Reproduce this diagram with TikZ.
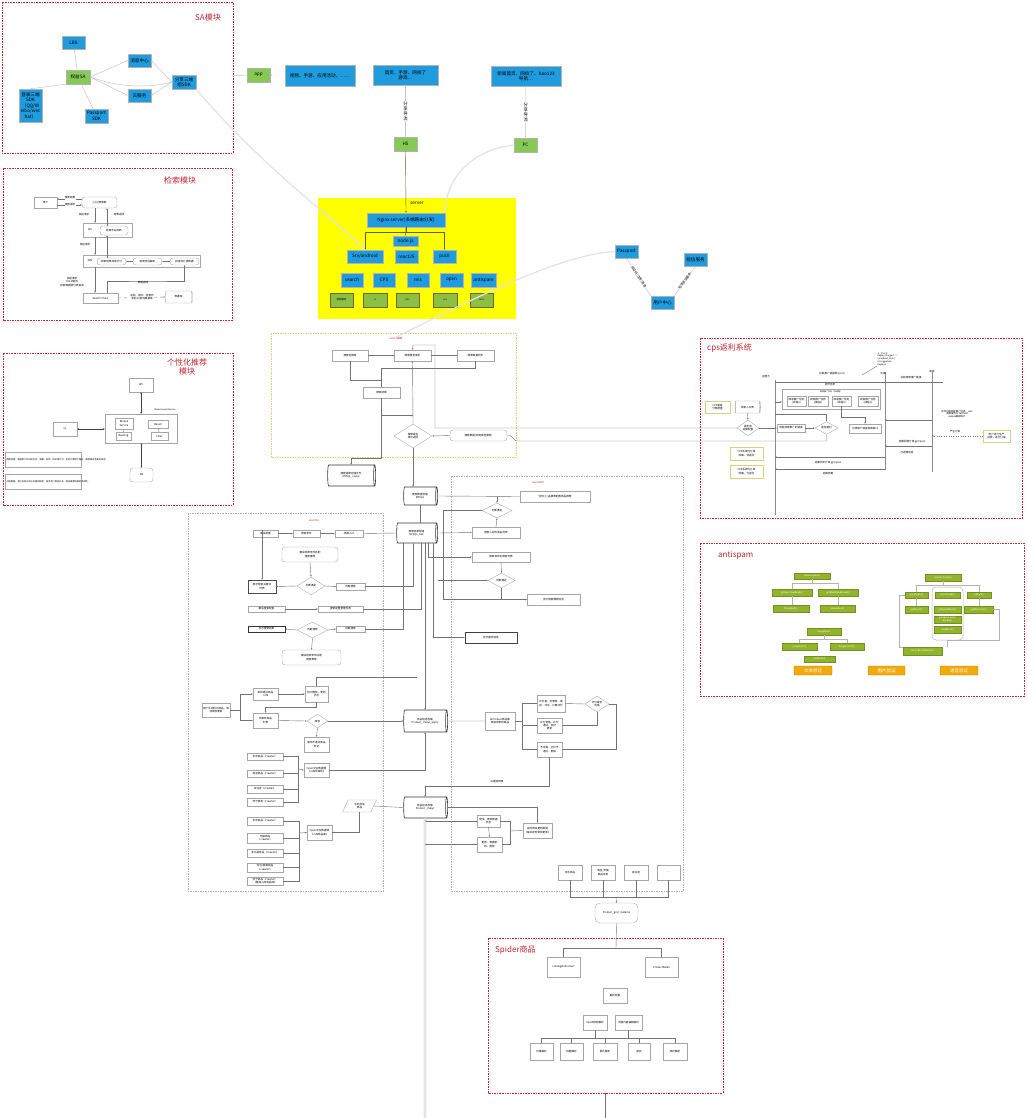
\documentclass[tikz,border=0pt]{standalone}
\usepackage{fontspec}
\setmainfont{Noto Sans CJK SC}
\usetikzlibrary{shapes.geometric,shapes.misc,arrows.meta,calc}
\definecolor{skyb}{HTML}{1F9BDE}
\definecolor{lgrn}{HTML}{86C954}
\definecolor{sgrn}{HTML}{8DBF45}
\definecolor{olv}{HTML}{92B42A}
\definecolor{orng}{HTML}{F1A90B}
\definecolor{ylw}{HTML}{FFFF00}
\definecolor{modred}{HTML}{C0242F}
\definecolor{ybord}{HTML}{D8D27A}
\newcommand\fsz[2]{\fontsize{#1}{#2}\selectfont}
\newcommand\bx[7]{\node[#6,minimum width=#4pt-#2pt,minimum height=#5pt-#3pt] (#1) at ({(#2+#4)/2},{(#3+#5)/2}) {#7};}
\newcommand\cy[7]{\node[cyl,#6,minimum height=#4pt-#2pt,minimum width=#5pt-#3pt] (#1) at ({(#2+#4)/2},{(#3+#5)/2}) {#7};}
\tikzset{
  bl/.style={draw=gray!60,fill=skyb,inner sep=0.3pt,align=center,font=\fsz{4.6}{5.4}},
  gr/.style={draw=gray!60,fill=lgrn,inner sep=0.3pt,align=center,font=\fsz{4.6}{5.4}},
  sg/.style={draw=olive!70!black,fill=sgrn,inner sep=0.3pt,align=center,font=\fsz{2.5}{3}},
  wb/.style={draw=gray!70,fill=white,line width=0.35pt,inner sep=0.2pt,align=center,font=\fsz{2.6}{3.1}},
  wr/.style={wb,rounded corners=3pt},
  yb/.style={wb,draw=ybord,line width=0.7pt},
  dia/.style={diamond,draw=gray!70,fill=white,line width=0.35pt,inner sep=0pt,align=center,font=\fsz{2.6}{3.1}},
  cyl/.style={cylinder,shape aspect=0.35,draw=black!80,fill=white,line width=0.6pt,inner sep=0pt,align=center,font=\fsz{2.6}{3.1}},
  as/.style={fill=olv,draw=olv!80!black,line width=0.2pt,inner sep=0.2pt,text=white,align=center,font=\fsz{2.3}{2.8}},
  og/.style={fill=orng,draw=orng!80!black,rounded corners=1pt,inner sep=0.2pt,text=white,align=center,font=\fsz{4.5}{5}},
  modbox/.style={draw=modred,line width=0.8pt,dash pattern=on 1.6pt off 1pt},
  subbox/.style={draw=gray!60,line width=0.45pt,dash pattern=on 1.5pt off 1pt},
  ttl/.style={text=modred,font=\fsz{8}{9.5},align=center,inner sep=0pt},
  lbl/.style={font=\fsz{2.6}{3.1},align=center,inner sep=0.3pt},
  ed/.style={draw=black!55,line width=0.4pt,-{Stealth[length=1.8pt,width=1.4pt]}},
  ln/.style={draw=black!55,line width=0.4pt},
  gl/.style={draw=gray!45,line width=0.5pt},
  ge/.style={gl,-{Stealth[length=2pt,width=1.6pt]}},
  dbl/.style={draw=black!75,line width=0.4pt,{Stealth[length=1.8pt,width=1.4pt]}-{Stealth[length=1.8pt,width=1.4pt]}},
  curv/.style={draw=gray!22,line width=1.2pt},
}
\begin{document}
\begin{tikzpicture}[x=1pt,y=-1pt]
\useasboundingbox (0,0) rectangle (1027,1118);
\fill[white] (0,0) rectangle (1027,1118);

% ================= SA module
\draw[modbox] (2,2) rectangle (233,153);
\node[ttl] (tsa) at (208,17) {SA模块};
\bx{lbs}{62}{36}{85}{49}{bl}{LBS}
\bx{qy}{66}{70}{90}{84}{gr}{权益SA}
\bx{msg}{128}{54}{151}{67}{bl}{消息中心}
\bx{cloud}{128}{89}{151}{102}{bl}{云服务}
\bx{share}{172}{75}{196}{89}{bl}{分享三端\\组SDK}
\bx{login}{19}{89}{42}{122}{bl}{登录三端\\SDK\\（QQ/W\\eibo/wec\\hat）}
\bx{pps}{85}{109}{108}{123}{bl}{Passport\\SDK}
\draw[ge] (qy) -- (lbs);
\draw[ge] (qy.east) -- (msg.west);
\draw[ge] (qy.east) -- (cloud.west);
\draw[ge] (qy) -- (pps);
\draw[ge] (qy.south west) -- (login.north);
\draw[ge] (share.west) -- (msg.east);
\draw[ge] (share.west) -- (cloud.east);
\draw[gl] (qy.east) .. controls (120,88) and (150,88) .. (share.west);
\coordinate (saR) at (233,76);

% ================= top row
\bx{app}{247}{68}{270}{82}{gr}{app}
\bx{t1}{285}{65}{355}{86}{bl}{视频、手游、应用活动、……}
\bx{t2}{373}{65}{438}{85}{bl}{首页、手游、网校了\\游戏…}
\bx{t3}{491}{66}{561}{86}{bl}{新闻首页、网校了、hao123\\导航…}
\bx{h5}{394}{137}{417}{151}{gr}{H5}
\bx{pc}{514}{138}{537}{152}{gr}{PC}
\draw[gl] (saR) -- (app.west);
\draw[ge,dotted] (t1) -- (app);
\draw[ge] (t2) -- node[fill=white,inner sep=0.5pt,align=center,font=\fsz{4.4}{5}] (lh5) {分\\享\\导\\流} (h5);
\draw[ge] (t3) -- node[fill=white,inner sep=0.5pt,align=center,font=\fsz{4.4}{5}] (lpc) {分\\享\\导\\流} (pc);

% ================= server
\bx{server}{318}{198}{516}{319}{fill=ylw,inner sep=0pt}{}
\node[font=\fsz{4.6}{5},inner sep=0pt] (srvl) at (417,203) {server};
\bx{nginx}{367}{213}{445}{227}{bl}{Nginx server(多端路由分发)}
\bx{nodej}{393}{236}{418}{246}{bl}{node.js}
\bx{srva}{347}{250}{383}{263}{bl}{Srv/android}
\bx{react}{395}{250}{418}{263}{bl}{reactJS}
\bx{puui}{433}{250}{456}{263}{bl}{puUI}
\bx{ssearch}{341}{273}{363}{287}{bl}{search}
\bx{scps}{373}{273}{395}{287}{bl}{CPS}
\bx{smis}{407}{273}{429}{287}{bl}{mis}
\bx{sopen}{440}{273}{463}{287}{bl}{open}
\bx{santi}{471}{273}{496}{287}{bl}{antispam}
\bx{g1}{330}{293}{353}{307}{sg}{搜索服务}
\bx{g2}{363}{293}{387}{307}{sg}{cs}
\bx{g3}{396}{293}{419}{307}{sg}{mis}
\bx{g4}{433}{293}{457}{307}{sg}{ocs}
\bx{g5}{470}{293}{493}{307}{sg}{ams}
\draw[ed,draw=olive!60!black] (h5.south) -- (nginx.north);
\draw[ln,draw=olive!60!black] (nginx.south) -- (nodej.north);
\draw[ed,draw=olive!60!black] (nginx.south) -- ++(0,5) -| (srva.north);
\draw[ed,draw=olive!60!black] (nginx.south) -- ++(0,5) -| (puui.north);
\draw[curv] (share.south east) .. controls (260,165) and (330,215) .. (srva.north);
\draw[curv] (pc.west) .. controls (470,150) and (445,180) .. (nginx.north east);

% ================= passport cluster
\bx{passp}{615}{245}{638}{258}{bl}{Passport}
\bx{ucen}{651}{296}{674}{309}{bl}{用户中心}
\bx{sms}{684}{253}{707}{266}{bl}{短信服务}
\draw[ge] (ucen.north west) -- node[sloped,fill=white,inner sep=0.3pt,font=\fsz{3.2}{3.6}] (lpa) {验证码/注册/登录} (passp.south);
\draw[ge] (ucen.north east) -- node[sloped,fill=white,inner sep=0.3pt,font=\fsz{3.2}{3.6}] (lsm) {短信验证服务} (sms.south);

% ================= middle search box
\draw[subbox,draw=ybord] (271,333) rectangle (516,457);
\node[lbl,text=modred] (tmid) at (396,339) {search服务};
\draw[curv,-{Stealth[length=3pt]}] (tmid.north) .. controls (470,300) and (560,255) .. (passp.west);
\bx{mb1}{332}{350}{368}{361}{wb}{搜索词推荐}
\bx{mb2}{394}{350}{431}{361}{wb}{搜索服务请求}
\bx{mb3}{457}{350}{494}{361}{wb}{搜索数据同步}
\bx{mres}{363}{387}{400}{398}{wb}{搜索结果}
\bx{mdia}{394}{424}{432}{448}{dia}{搜索是否\\成功返回}
\bx{mrnd}{450}{430}{507}{441}{wr}{搜索数据(调用其他服务)}
\cy{mcyl}{327}{465}{375}{486}{}{搜索结果存储文件\\MYSQL\_cache}
\draw[ln] (mb1.east) -- (mb2.west);
\draw[ln] (mb2.east) -- (mb3.west);
\draw[ln] (mb1.south) -- ++(0,19) -| (mres.north);
\draw[ln] (mb3.south) -- ++(0,7) -| (mres.north);
\draw[ed] (mdia.north) -- (mb2.south);
\draw[ln] (mres.south) -- ++(0,17) -- ++(31,0);
\draw[ed] (mres.south) -- ++(0,60) -| (mcyl.north);
\draw[ed] (mrnd.west) -- (mdia.east);

% ================= central column
\cy{ca}{403}{487}{437}{505}{}{搜索数据存储\\MYSQL}
\cy{cb}{396}{523}{437}{543}{}{搜索结果存储\\MYSQL\_bak}
\cy{cc}{403}{710}{447}{732}{}{商品信息存储\\Product\_cheap\_apply}
\cy{cd}{403}{797}{447}{818}{}{商品信息存储\\Product\_cheap}
\coordinate (bot1) at (425,1118);
\draw[ed] (mdia.south) -- (mdia.south |- ca.north);
\draw[ln] (ca.south) -- (ca.south |- cb.north);
\draw[ed] (cb.south -| cc.north) -- (cc.north);
\draw[draw=gray!60,line width=0.45pt,double=white,double distance=1.3pt] (cd.south) -- (bot1);

% ================= left dashed box
\draw[subbox] (188,513) rectangle (383,891);
\node[lbl,text=modred] (tleft) at (314,520) {searchUI};
\bx{l1}{253}{530}{278}{537}{wb}{模块配置}
\bx{l2}{293}{530}{320}{537}{wb}{搜索条件}
\bx{l3}{335}{530}{363}{537}{wb}{终端入口}
\bx{lr1}{282}{547}{338}{562}{wr}{模块检索条件匹配\\搜索推荐}
\bx{l4}{248}{580}{276}{593}{wb,line width=0.6pt,draw=black!70}{展示检索关键词\\列表}
\bx{ld1}{297}{577}{325}{595}{dia}{判断满足}
\bx{l5}{336}{583}{365}{590}{wb}{判断搜索}
\bx{l6}{248}{606}{285}{612}{wb}{模块搜索配置}
\bx{l7}{318}{606}{363}{612}{wb}{搜索配置管理列表}
\bx{l8}{248}{626}{285}{632}{wb,line width=0.6pt,draw=black!80}{显示搜索结果}
\bx{ld2}{297}{622}{328}{638}{dia}{判断搜索}
\bx{l9}{336}{626}{365}{632}{wb}{判断搜索}
\bx{lr2}{282}{650}{341}{665}{wr}{模块检索条件匹配\\搜索推荐}
\draw[ed] (l1.east) -- (l2.west);
\draw[ed] (l2.east) -- (l3.west);
\draw[ln] (l3.east) -- (cb.west);
\draw[ed] (l4.north |- l1.north) -- (l4.north);
\draw[ed] (lr1.south) -- (ld1.north);
\draw[ed] (ld1.west) -- (l4.east);
\draw[ed] (ld1.east) -- (l5.west);
\draw[ed] (l5.east) -| ($(cb.south)+(-3,0)$);
\draw[ed] (l6.east) -- (l7.west);
\draw[ln] (l7.east) -| ($(cb.south)+(5,0)$);
\draw[ed] (ld2.west) -- (l8.east);
\draw[ed] (ld2.east) -- (l9.west);
\draw[ed] (ld2.south) -- (lr2.north);
\draw[ln] (l9.east) -| ($(cb.south)+(-13,0)$);

% lower-left group
\bx{u1}{202}{703}{230}{717}{wb}{用户手动标记商品，等\\待审核更新}
\bx{u2}{253}{688}{278}{700}{wb}{审核通过商品\\入库}
\bx{u3}{305}{686}{328}{702}{wb}{标记删除，更新\\状态}
\bx{u4}{253}{713}{278}{728}{wb}{待审核商品\\列表}
\bx{ud}{307}{714}{328}{728}{dia}{审核}
\bx{u5}{304}{737}{329}{752}{wb}{审核不通过商品\\标记}
\bx{v1}{247}{753}{283}{760}{wb}{京东商品（crawler）}
\bx{v2}{247}{770}{283}{777}{wb}{淘宝商品（crawler）}
\bx{v3}{247}{785}{283}{793}{wb}{亚马逊（crawler）}
\bx{v4}{247}{798}{283}{806}{wb}{苏宁易购（crawler）}
\bx{v5}{304}{763}{329}{777}{wb}{Open平台数据源\\（入库待审核）}
\bx{para}{344}{800}{375}{812}{trapezium,trapezium left angle=65,trapezium right angle=115,draw=gray!70,fill=white,line width=0.35pt,inner sep=0pt,align=center,font=\fsz{2.6}{3.1}}{手动添加\\商品}
\bx{w1}{247}{817}{283}{825}{wb}{京东商品（crawler）}
\bx{w2}{247}{833}{283}{843}{wb}{天猫商品\\（crawler）}
\bx{w3}{247}{849}{283}{857}{wb}{亚马逊商品（crawler）}
\bx{w4}{247}{863}{283}{872}{wb}{当当/国美商品\\（crawler）}
\bx{w5}{247}{877}{283}{885}{wb}{苏宁商品（crawler）\\（直接入库商品库）}
\bx{w6}{307}{825}{332}{840}{wb}{Open平台数据源\\（入库商品库）}
\draw[ln] (u1.east) -- ++(10,0) coordinate (ub);
\draw[ed] (ub) |- (u2.west);
\draw[ed] (ub) |- (u4.west);
\draw[ed] (u2.east) -- (u3.west);
\draw[ed] (u3.south) -- ++(0,5) -| (u4.north);
\draw[ln] (u3.north) |- (cb.south |- 0,677);
\draw[ed] (u4.east) -- (ud.west);
\draw[ed] (ud.south) -- (u5.north);
\draw[ed] (ud.east) -- (cc.west);
\coordinate (vb) at (298,769);
\draw[ln] (v1.east) -| (vb);
\draw[ln] (v4.east) -| (vb);
\draw[ln] (v2.east) -- (v2.east -| vb);
\draw[ln] (v3.east) -- (v3.east -| vb);
\draw[ed] (vb) -- (v5.west);
\draw[ed] (v5.east) -| (cc.south);
\coordinate (wbk) at (299,833);
\draw[ln] (w1.east) -| (wbk);
\draw[ln] (w5.east) -| (wbk);
\foreach \n in {w2,w3,w4} \draw[ln] (\n.east) -- (\n.east -| wbk);
\draw[ed] (wbk) -- (w6.west);
\draw[ln] (w6.east) -| (para.south);
\draw[ln] (para.east) -- (cd.west);

% ================= right dashed box
\draw[subbox] (451,476) rectangle (683,891);
\node[lbl,text=modred] (tright) at (538,482) {searchAPI};
\bx{q1}{520}{491}{590}{502}{wb}{任何(上)品搜索配置商品推荐}
\bx{qd1}{482}{503}{512}{518}{dia}{判断满足}
\bx{q3}{472}{527}{520}{538}{wb}{搜索入组件商品列表}
\bx{q4}{472}{552}{530}{562}{wb}{搜索自动化推荐列表}
\bx{qd2}{488}{573}{515}{588}{dia}{判断满足}
\bx{q6}{527}{594}{580}{605}{wb}{显示搜索推荐信息}
\bx{q7}{465}{632}{517}{643}{wb,line width=0.6pt,draw=black!75}{显示服务信息}
\draw[ln] (ca.east) -- (q1.west);
\draw[ed] (q1.west -| qd1.north) -- (qd1.north);
\draw[ed] (q3.north) -- (qd1.south);
\draw[ed] (cb.east) -- (q3.west);
\draw[ed] (qd1.west) -| ($(q6.west)+(-84,0)$) -- (q6.west);
\draw[ed] (qd2.south) |- (q6.west);
\draw[ed] (q4.south) -- (qd2.north);
\draw[ed] ($(cb.south)+(12,0)$) |- (q4.west);
\draw[ed] ($(cb.south)+(17,0)$) |- (q7.west);
\draw[ed] ($(qd2.west)+(-50,0)$) -- (qd2.west);

% lower right group
\bx{r1}{485}{712}{515}{730}{wb}{从Product商品库\\获取待审核商品}
\bx{r2}{537}{695}{565}{712}{wb}{比价格、优惠券、库\\存、评论，计算评分}
\bx{rd}{585}{696}{609}{712}{dia}{评分是否\\合格}
\bx{r3}{537}{718}{562}{733}{wb}{评分合格，比价\\通过，标记\\更新}
\bx{r4}{537}{742}{562}{757}{wb}{不合格，比价不\\通过，删除}
\bx{r5}{477}{815}{500}{827}{wb}{爬虫、更新数据\\状态}
\bx{r6}{477}{837}{502}{852}{wb}{更新、数据审\\核、删除}
\bx{r7}{523}{823}{552}{838}{wb}{定时爬虫更新数据\\（每日定时审核更新）}
\draw[ln] (cc.east) -- (r1.west);
\draw[ln] (r1.east) -- ++(7,0) coordinate (rb);
\draw[ln] (rb) |- (r2.west);
\draw[ln] (rb) |- (r4.west);
\draw[ln] (rb) |- (r3.west);
\draw[ln] (r2.east) -- (rd.west);
\draw[ed] (rd.south) |- (r3.east);
\draw[ed] (rd.east) -- ++(7,0) |- (r4.east);
\draw[ed] (r4.south) -- ++(0,29) -| (cd.north);
\node[lbl] (llink) at (497,782) {以链接转换};
\draw[ed] (cd.east) -| (r7.north);
\draw[ed] (r5.west) -- (r5.west -| cd.south);
\draw[ed] (r6.west) -- (r6.west -| cd.south);
\draw[ed] (r5.south) -- (r6.north);
\coordinate (rk) at (510,831);
\draw[ln] (r5.east) -| (rk);
\draw[ln] (r6.east) -| (rk);
\draw[ln] (rk) -- (r7.west);

% source row and spider
\bx{rw1}{558}{865}{582}{880}{wb}{京东商品}
\bx{rw2}{591}{865}{615}{880}{wb}{淘宝/天猫\\商品信息}
\bx{rw3}{624}{865}{648}{880}{wb}{亚马逊}
\bx{rw4}{657}{865}{680}{880}{wb}{……}
\bx{prodg}{595}{903}{638}{923}{wr,rounded corners=5pt}{Product\_gird\_material}
\coordinate (mrg) at (616,897);
\foreach \n in {rw1,rw2,rw3,rw4} \draw[ln] (\n.south) |- (mrg);
\draw[ed] (mrg) -- (prodg.north);
\draw[modbox] (488,938) rectangle (723,1093);
\node[ttl,anchor=west] (tsp) at (495,950) {Spider商品};
\bx{sp1}{547}{957}{580}{977}{wb}{CatalogDoProduct}
\bx{sp2}{645}{957}{678}{977}{wb}{ProductDetail}
\bx{sp3}{603}{988}{627}{1003}{wb}{解析配置}
\bx{sp4}{583}{1015}{607}{1030}{wb}{Xpath规则解析}
\bx{sp5}{615}{1015}{642}{1030}{wb}{页面内容抽取解析}
\bx{sb1}{530}{1043}{553}{1060}{wb}{价格解析}
\bx{sb2}{560}{1043}{583}{1060}{wb}{标题解析}
\bx{sb3}{593}{1043}{617}{1060}{wb}{图片解析}
\bx{sb4}{628}{1043}{650}{1060}{wb}{类目}
\bx{sb5}{663}{1043}{687}{1060}{wb}{库存解析}
\coordinate (spl) at (616,948);
\draw[ln] (prodg.south) -- (spl);
\draw[ln] (spl) -| (sp1.north);
\draw[ln] (spl) -| (sp2.north);
\coordinate (bbar) at (608,1038);
\draw[ln] (sb1.north |- bbar) -- (sb5.north |- bbar);
\foreach \n in {sb1,sb2,sb3,sb4,sb5} \draw[ln] (\n.north |- bbar) -- (\n.north);
\draw[ln] (sp4.south) -- (sp4.south |- bbar);
\draw[ln] (sp5.south) -- (sp5.south |- bbar);
\coordinate (spB) at (605,1093);
\coordinate (spE) at (605,1118);
\draw[ln] (spB) -- (spE);

% ================= cps box
\draw[modbox] (700,338) rectangle (1022,518);
\node[ttl,anchor=west] (tcps) at (707,348) {cps返利系统};
\coordinate (la1) at (775,380);  \coordinate (lb1) at (775,515);
\coordinate (la2) at (885,372);  \coordinate (lb2) at (885,470);
\coordinate (la3) at (932,372);  \coordinate (lb3) at (932,472);
\draw[draw=black!45,line width=0.7pt] (la1) -- (lb1);
\draw[draw=black!45,line width=0.7pt] (la2) -- (lb2);
\draw[draw=black!45,line width=0.7pt] (la3) -- (lb3);
\node[lbl] (k1) at (766,377) {运营方};
\node[lbl] (k2) at (832,374) {拉取推广链接和(post)};
\node[lbl] (k3) at (883,374) {云端};
\node[lbl] (k4) at (932,371) {商家};
\node[lbl] (k5) at (911,378) {拉取商家推广链接};
\draw[ln] (la1 |- 0,382) -- (943,382);
\node[lbl,align=left,anchor=north west,font=\fsz{2.2}{2.7}] (k6) at (877,352) {1、Charts\\Deploy (Suggest...)\\sync(dead\_links)\\Unsuggestion\\DeployS};
\draw[ln] (862,375) -- (k6.south west);
\bx{cbig}{782}{389}{880}{409}{wb}{}
\node[lbl] (k7) at (830,385) {定时任务};
\node[lbl,font=\fsz{2}{2.4}] (k8) at (831,392) {商家推广任务（多线程）};
\bx{ci1}{787}{396}{806}{406}{wb}{商家推广任务\\(线程1)}
\bx{ci2}{808}{396}{828}{406}{wb}{商家推广任务\\(线程2)}
\bx{ci3}{832}{396}{851}{406}{wb}{商家推广任务\\(线程3)}
\bx{ci4}{858}{396}{878}{406}{wb}{商家推广任务\\(线程n)}
\bx{cy1}{705}{401}{730}{413}{yb}{CPS渠道\\分佣配置}
\cy{ccy}{735}{401}{760}{413}{line width=0.4pt,draw=gray!80}{商家入口表}
\bx{cpd1}{737}{422}{759}{434}{dia}{是否有\\返佣配置}
\bx{cq1}{777}{424}{805}{432}{wb}{获取商家推广的链接}
\bx{cpd2}{815}{422}{838}{434}{dia}{是否超时}
\bx{cq2}{849}{424}{881}{433}{wb}{记录推广链接和商家id}
\draw[ed] (la1 |- 0,402) -- (cbig.west |- 0,402);
\draw[ed] (ccy.south) -- (cpd1.north);
\draw[ed] (cpd1.east) -- (cq1.west);
\draw[ed] (cq1.east) -- (cpd2.west);
\draw[ed] (la1 |- 0,414) -| (cpd2.north);
\draw[ed] (ci3.south) -- ++(0,11) -| (cq2.north);
\node[lbl,font=\fsz{2.4}{2.9}] (k9) at (957,414) {实时拉取商家推广信息，json\\商家服务方 fetched\\cookie跟踪统计};
\draw[ed] (la3 |- 0,420) -- (la2 |- 0,420);
\bx{cy2}{983}{430}{1010}{442}{yb}{用户进行生产\\消费，进行订单}
\draw[ed,dotted] (cy2.west) -- (la3 |- cy2.west);
\node[lbl] (k10) at (955,432) {产生订单};
\draw[ed] (la3 |- 0,446) -- (la2 |- 0,446);
\node[lbl] (k11) at (912,442) {定期回调订单 get/post};
\node[lbl] (k12) at (907,452) {已返佣信息};
\draw[ed] (la2 |- 0,457) -- (la1 |- 0,457);
\node[lbl] (k13) at (828,463) {定期同步订单 get/post};
\draw[ed] (la2 |- 0,469) -- (la1 |- 0,469);
\node[lbl] (k14) at (828,474) {定期结算};
\bx{cy3}{730}{447}{763}{460}{yb}{CPS系统内订单\\收集、待返利}
\bx{cy4}{730}{465}{763}{478}{yb}{CPS系统内订单\\收集、已返利}
% connections between middle box and cps
\draw[ed] (cpd1.west) -- (435,428) |- (413,345) -- (mb2.north);
\draw[ln] (mrnd.east) -- ++(3,0) -- (516,441) -| (cpd2.south);

% ================= antispam
\draw[modbox] (700,543) rectangle (1024,696);
\node[text=modred,font=\fsz{8}{9},anchor=west,inner sep=0pt] (tas) at (718,555) {antispam};
\bx{a1}{794}{573}{830}{579}{as}{TextAntispam()}
\bx{a2}{772}{589}{812}{596}{as}{getSensitiveWords()}
\bx{a3}{818}{589}{858}{596}{as}{getBlackWordsLevel()}
\bx{a4}{773}{605}{809}{612}{as}{filterWords()}
\bx{a5}{820}{605}{855}{612}{as}{checkResult}
\draw[ln,draw=gray!60] (a1.south) -- ++(0,4) -| (a2.north);
\draw[ln,draw=gray!60] (a1.south) -- ++(0,4) -| (a3.north);
\draw[ln,draw=gray!60] (a2.south) -- (a2.south |- a4.north);
\draw[ln,draw=gray!60] (a3.south) -- (a3.south |- a5.north);
\bx{b1}{807}{628}{841}{635}{as}{ImageSpam}
\bx{b2}{782}{643}{817}{650}{as}{imageFilter()}
\bx{b3}{830}{643}{864}{650}{as}{imageClassify()}
\bx{b4}{804}{656}{835}{662}{as}{ocrResult()}
\draw[ln,draw=gray!60] (b1.south) -- ++(0,4) -| (b2.north);
\draw[ln,draw=gray!60] (b1.south) -- ++(0,4) -| (b3.north);
\bx{d0}{932}{587}{963}{640}{draw=gray!60,line width=0.5pt,rounded corners=4pt}{}
\bx{c1}{925}{574}{961}{581}{as}{VoiceAntispam()}
\bx{c2}{905}{592}{928}{598}{as}{voiceToText()}
\bx{c3}{935}{592}{960}{598}{as}{textAntispam}
\bx{c4}{967}{592}{991}{598}{as}{isBlack()}
\bx{c5}{905}{606}{928}{613}{as}{getResult()}
\bx{c6}{934}{606}{961}{613}{as}{getSpamWords()}
\bx{c7}{934}{616}{961}{623}{as}{getSpamLevel()\\Record()}
\bx{c8}{934}{626}{961}{633}{as}{saveResult()}
\bx{c9}{964}{606}{993}{613}{as}{getBlackUser()}
\bx{c10}{903}{647}{942}{655}{as}{returnResultToUser()}
\draw[ln,draw=gray!60] (c1.south) -- ++(0,4) -| (c2.north);
\draw[ln,draw=gray!60] (c1.south) -- ++(0,4) -| (c4.north);
\draw[ln,draw=gray!60] (c2.south) -- (c5.north);
\draw[ln,draw=gray!60] (c4.south) -- (c4.south |- c9.north);
\draw[ln,draw=gray!60] (c2.west) -- ++(-6,0) |- (c10.north west);
\draw[ln,draw=gray!60] (c9.east) -- ++(6,0) |- (d0.south);
\draw[ln,draw=gray!60] (d0.south) -- (d0.south |- c10.north);
\bx{o1}{794}{666}{832}{675}{og}{文本验证}
\bx{o2}{868}{666}{905}{675}{og}{图片验证}
\bx{o3}{940}{666}{978}{675}{og}{语音验证}

% ================= search module
\draw[modbox] (3,168) rectangle (232,320);
\node[ttl] (tss) at (180,180) {检索模块};
\bx{su}{34}{197}{57}{208}{wb}{用户}
\bx{se}{82}{197}{117}{208}{wr}{入口/搜索框}
\bx{sapi}{83}{223}{132}{237}{wb}{}
\node[lbl] (sapit) at (90,230) {API};
\bx{sapii}{100}{226}{128}{235}{wr}{检索字段判断}
\bx{ssrv}{83}{255}{200}{267}{wb}{}
\node[lbl] (ssrvt) at (90,261) {SRV};
\bx{ss1}{97}{258}{126}{265}{wr}{检索结果排序打分}
\bx{ss2}{133}{258}{162}{265}{wr}{检索字段解析}
\bx{ss3}{170}{258}{199}{265}{wr}{检索词汇源数据}
\bx{ssc}{83}{293}{118}{303}{wb}{Search Chain}
\cy{sdb}{165}{291}{192}{303}{draw=gray!70,line width=0.35pt}{数据库}
\draw[ed] (se.west |- 0,199) -- (su.east |- 0,199);
\draw[ed] (su.east |- 0,205) -- (se.west |- 0,205);
\node[lbl,fill=white] (sl1) at (70,198) {搜索结果};
\node[lbl,fill=white] (sl2) at (70,205) {搜索请求};
\draw[ed] (se.south -| 95,0) -- (sapi.north -| 95,0);
\node[lbl,fill=white] (sl3) at (84,215) {发起请求};
\draw[ed] (sapii.north -| 107,0) -- (se.south -| 107,0);
\node[lbl] (sl4) at (119,215) {结果返回};
\draw[ed] (sapi.south -| 95,0) -- (ssrv.north -| 95,0);
\node[lbl,fill=white] (sl5) at (85,245) {发起请求};
\draw[ed] (ss1.north -| 107,0) -- (sapii.south -| 107,0);
\draw[ed] (ss2.west) -- (ss1.east);
\draw[ed] (ss3.west) -- (ss2.east);
\draw[ed] (ssrv.south -| 95,0) -- (ssc.north -| 95,0);
\node[lbl,fill=white] (sl6) at (72,282) {发起请求\\SOLR查询\\检索数据源分类查询};
\draw[ed,dashed] (ssc.east) -- (sdb.west);
\node[lbl,fill=white] (sl7) at (142,297) {返回、排序、检索所\\有的(6)查询数据库};
\draw[ed] (ssc.north -| 107,0) |- (150,281) -| (ss3.south);
\node[lbl,fill=white] (sl8) at (143,283) {数据返回};

% ================= personalised recommendation
\draw[modbox] (3,353) rectangle (233,505);
\node[ttl] (tps) at (187,367) {个性化推荐\\模块};
\bx{pt}{129}{378}{153}{392}{wb}{API}
\bx{pl}{53}{422}{77}{436}{wb}{UI}
\bx{pgr}{105}{414}{177}{443}{wb}{}
\node[lbl,font=\fsz{2.2}{2.6}] (pgl) at (165,410) {Recommend Service};
\bx{pi1}{115}{418}{133}{429}{wb}{Rerank\\Service}
\bx{pi2}{116}{432}{131}{440}{wb}{Ranking}
\bx{pi3}{148}{420}{168}{428}{wb}{Recall}
\bx{pi4}{151}{432}{168}{440}{wb}{Filter}
\bx{pb}{130}{468}{153}{482}{wr}{DB}
\bx{ptx1}{5}{452}{81}{467}{wb,align=left,text width=73pt,font=\fsz{2.2}{2.8}}{推荐原理：根据用户的浏览历史、收藏、加购、购买等行为，实时计算用户偏好，推荐相关性高的商品。}
\bx{ptx2}{5}{474}{81}{489}{wb,align=left,text width=73pt,font=\fsz{2.2}{2.8}}{召回策略：基于协同过滤与内容相似度，结合热门商品补充，保证推荐结果的多样性。}
\draw[dbl] (pt.south) -- (pt.south |- pgr.north);
\draw[dbl] (pl.east) -- (pgr.west |- pl.east);
\draw[dbl] (pgr.south -| pb.north) -- (pb.north);
\draw[ln] (pi1) -- (pi2);
\draw[ln] (pi3) -- (pi4);

\end{tikzpicture}
\end{document}
